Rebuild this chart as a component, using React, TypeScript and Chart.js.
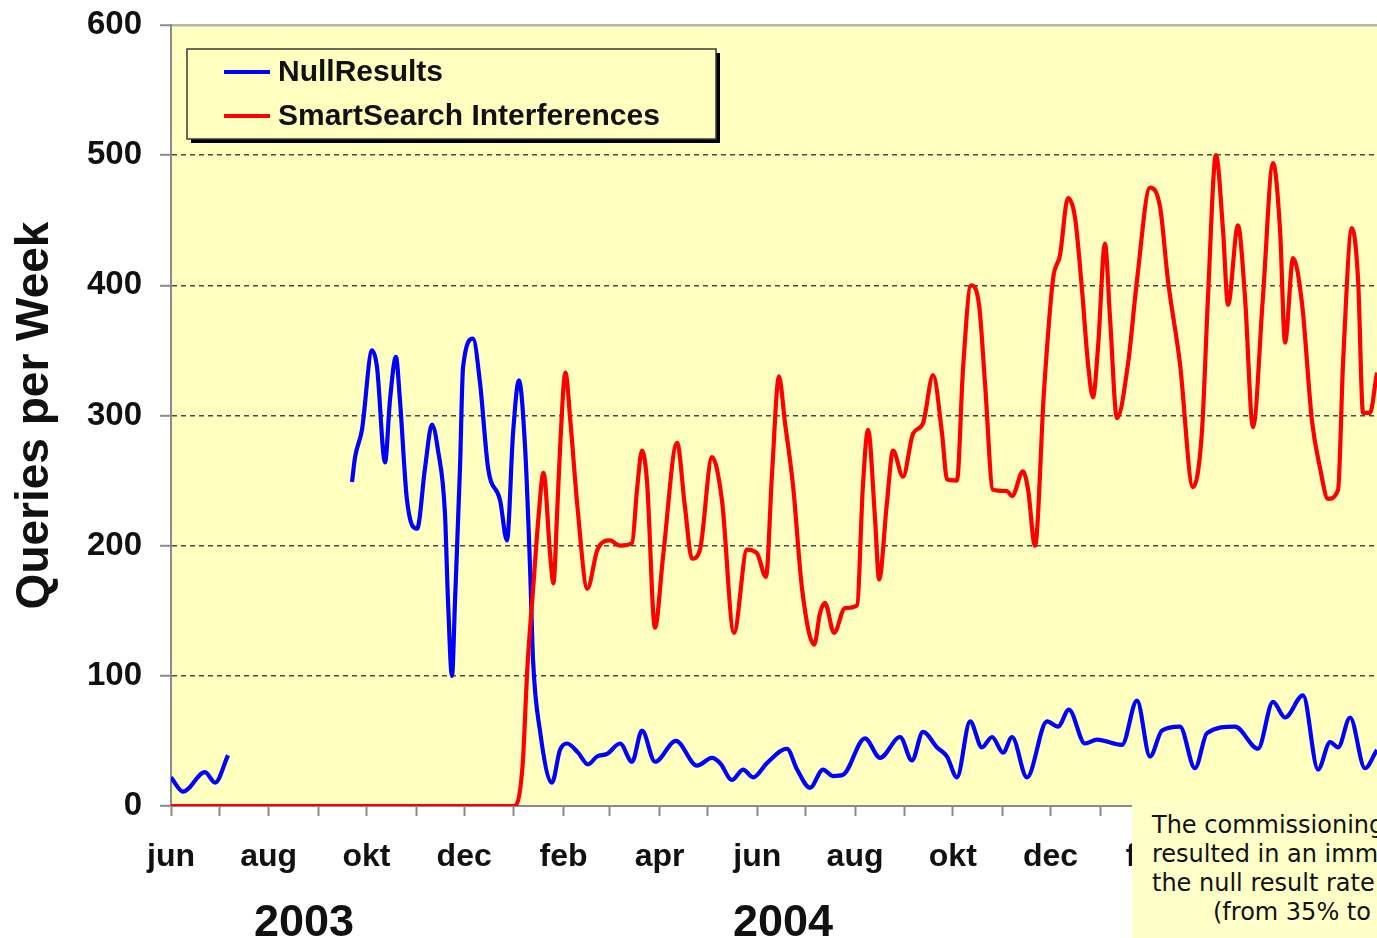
import React, { useEffect, useRef } from 'react';
import { Chart, registerables } from 'chart.js';

Chart.register(...registerables);

// ---- data (x = days since 1 June 2003) ----
const BLUE_DAYS = [
  0, 7.5, 21.2, 27.5, 35.6, 39, 43, 47.4, 50,
  113.0, 114.9, 119.2, 125.5, 128.6, 133.6, 136.7, 140.4, 142.9, 147.3, 153.6,
  158.6, 162.9, 166.7, 171.0, 172.9, 175.4, 177.3, 180.4, 182.3, 188.5, 192.9,
  197.9, 205.4, 209.7, 213.5, 217.2, 221.0, 224.1, 226.0, 230.3, 237.8, 242.8,
  247.2, 254.1, 260.3, 265.9, 272.2, 280.3, 287.8, 294.0, 302.1, 315.2, 328.3,
  337.7, 342.7, 350.2, 357.1, 363.3, 372.0, 384.5, 390.8, 398.9, 407.0, 413.2,
  419.5, 433.2, 442.6, 455.1, 462.5, 469.4, 478.2, 484.4, 490.6, 498.8, 506.2,
  512.5, 519.4, 525.0, 534.3, 546.8, 553.7, 560.5, 570.5, 578.0, 593.6, 603.0,
  611.1, 618.6, 629.8, 639.2, 646.7, 664.2, 678.5, 687.9, 695.4, 706.6, 716.0,
  723.5, 728.5, 736.0, 745.3, 752.8, 758,
];
const BLUE_VALUES = [
  22, 11, 26, 18, 39, null, -1, -1, null,
  249, 268, 289, 350, 337, 264, 312, 345, 312, 235, 213,
  260, 293, 273, 225, 158, 100, 158, 260, 337, 359, 325,
  260, 235, 204, 286, 327, 276, 184, 112, 58, 18, 43,
  48, 41, 32, 38, 40, 48, 34, 58, 34, 50, 31,
  37, 33, 20, 28, 22, 33, 44, 28, 14, 28, 23,
  24, 52, 37, 53, 35, 57, 45, 38, 22, 65, 45,
  53, 41, 53, 22, 65, 61, 74, 48, 51, 47, 81,
  38, 58, 61, 29, 56, 61, 44, 80, 68, 85, 28,
  49, 45, 68, 29, 43, 50,
];

const RED_DAYS = [
  0, 214.1, 219.4, 222.5, 226.3, 229.4, 232.5, 236.8, 238.7, 241.2, 243.1,
  246.2, 249.4, 253.7, 259.9, 266.2, 274.0, 280.3, 287.8, 290.9, 294.0, 297.1,
  302.1, 307.1, 315.9, 320.8, 325.2, 330.2, 337.7, 343.9, 351.4, 359.6, 365.8,
  371.4, 375.2, 379.5, 383.3, 388.3, 393.9, 401.5, 405.1, 408.2, 413.9, 420.7,
  428.2, 431.9, 435.1, 439.5, 442.0, 446.9, 450.7, 456.9, 463.2, 469.4, 475.7,
  481.3, 484.4, 490.6, 494.4, 499.4, 504.4, 508.1, 513.1, 521.8, 525.0, 531.8,
  535.0, 539.3, 545.0, 550.6, 554.9, 559.9, 564.3, 568.7, 572.4, 575.5, 578.7,
  583.0, 586.1, 590.5, 597.4, 603.0, 611.1, 617.4, 622.3, 629.8, 637.9, 643.6,
  647.3, 652.3, 656.7, 659.8, 666.0, 670.4, 675.4, 681.6, 687.9, 692.3, 695.4,
  700.4, 706.0, 712.2, 717.2, 722.2, 728.5, 731.6, 737.2, 741.0, 744.1, 748.4,
  752.8, 758,
];
const RED_VALUES = [
  0, 0, 30, 107, 171, 222, 256, 191, 171, 230, 281,
  333, 294, 230, 167, 197, 204, 200, 202, 243, 273, 250,
  137, 191, 279, 230, 190, 197, 268, 235, 133, 197, 194,
  176, 256, 330, 294, 246, 167, 124, 148, 156, 133, 152,
  154, 246, 289, 220, 174, 233, 273, 253, 286, 294, 331,
  286, 251, 250, 336, 400, 385, 325, 243, 242, 238, 257,
  243, 200, 320, 405, 423, 467, 452, 396, 340, 314, 353,
  432, 376, 298, 340, 404, 475, 460, 404, 340, 245, 289,
  391, 500, 442, 385, 446, 391, 291, 391, 494, 442, 356,
  421, 386, 296, 260, 236, 243, 340, 444, 404, 302, 302,
  333, 360,
];

const SERIES_LABELS = ['NullResults', 'SmartSearch Interferences'];

// month ticks (days since 1 June 2003) and their labels
const MONTH_DAYS = [0, 30, 61, 92, 122, 153, 183, 214, 245, 274, 305, 335, 366, 396, 427, 458, 488, 519, 549, 580, 611, 639, 670, 700, 731];
const MONTH_LABELS = ['jun', '', 'aug', '', 'okt', '', 'dec', '', 'feb', '', 'apr', '', 'jun', '', 'aug', '', 'okt', '', 'dec', '', 'feb', '', 'apr', '', ''];
const YEAR_DAYS = [83, 382];
const YEAR_LABELS = ['2003', '2004'];

const X_MIN = 0;
const X_MAX = 752.8;
const Y_MIN = 0;
const Y_MAX = 600;
const Y_STEP = 100;

const NOTE_LINES = ['The commissioning of SmartSearch', 'resulted in an immediate drop of', 'the null result rate', '(from 35% to'];

const FONT = '"Liberation Sans", Arial, Helvetica, sans-serif';
const PLOT_BG = '#FFFFC0';

const plotBackground = {
  id: 'plotBackground',
  beforeDraw(chart: any) {
    const { ctx, chartArea } = chart;
    ctx.save();
    ctx.fillStyle = PLOT_BG;
    ctx.fillRect(chartArea.left, chartArea.top, chartArea.right - chartArea.left, chartArea.bottom - chartArea.top);
    ctx.restore();
  },
};

const boxLegend = {
  id: 'boxLegend',
  afterDatasetsDraw(chart: any) {
    const { ctx, chartArea } = chart;
    const x = chartArea.left + 16;
    const y = chartArea.top + 24;
    const w = 529;
    const h = 90;
    ctx.save();
    ctx.fillStyle = '#000';
    ctx.fillRect(x + 4, y + 4, w, h);
    ctx.fillStyle = PLOT_BG;
    ctx.fillRect(x, y, w, h);
    ctx.strokeStyle = '#3a3a3a';
    ctx.lineWidth = 1.5;
    ctx.strokeRect(x, y, w, h);
    chart.data.datasets.forEach((ds: any, i: number) => {
      const cy = y + 23 + i * 44;
      ctx.strokeStyle = ds.borderColor;
      ctx.lineWidth = 4;
      ctx.beginPath();
      ctx.moveTo(x + 37, cy);
      ctx.lineTo(x + 83, cy);
      ctx.stroke();
      ctx.fillStyle = '#111';
      ctx.font = `bold 30px ${FONT}`;
      ctx.textBaseline = 'middle';
      ctx.textAlign = 'left';
      ctx.fillText(ds.label, x + 91, cy + 1);
    });
    ctx.restore();
  },
};

export default function App() {
  const ref = useRef<HTMLCanvasElement>(null);

  useEffect(() => {
    const chart = new Chart(ref.current as HTMLCanvasElement, {
      type: 'line',
      data: {
        datasets: [
          {
            label: SERIES_LABELS[0],
            data: BLUE_DAYS.map((d, i) => ({ x: d, y: BLUE_VALUES[i] })) as any,
            borderColor: '#0000FF',
            backgroundColor: '#0000FF',
            borderWidth: 4.2,
            pointRadius: 0,
            cubicInterpolationMode: 'monotone',
            spanGaps: false,
            fill: false,
            order: 1,
          },
          {
            label: SERIES_LABELS[1],
            data: RED_DAYS.map((d, i) => ({ x: d, y: RED_VALUES[i] })) as any,
            borderColor: '#FF0000',
            backgroundColor: '#FF0000',
            borderWidth: 4.2,
            pointRadius: 0,
            cubicInterpolationMode: 'monotone',
            fill: false,
            order: 0,
          },
        ],
      },
      options: {
        responsive: false,
        animation: false,
        devicePixelRatio: 1,
        layout: { padding: { top: 25, left: 0, right: 0, bottom: 0 } },
        plugins: {
          legend: { display: false },
          tooltip: { enabled: false },
        },
        scales: {
          x: {
            type: 'linear',
            position: 'bottom',
            min: X_MIN,
            max: X_MAX,
            weight: 0,
            afterBuildTicks: (s: any) => {
              s.ticks = MONTH_DAYS.map((v) => ({ value: v }));
            },
            afterFit: (s: any) => {
              s.height = 80;
              s.paddingLeft = 0;
              s.paddingRight = 0;
            },
            ticks: {
              autoSkip: false,
              maxRotation: 0,
              padding: 22,
              color: '#111',
              font: { family: FONT, size: 32, weight: 'bold' },
              callback: (_v: any, i: number) => MONTH_LABELS[i] ?? '',
            },
            grid: { drawOnChartArea: false, drawTicks: true, tickLength: 10, tickColor: '#8a8a8a', tickWidth: 2 },
            border: { display: true, color: '#8a8a8a', width: 2 },
          },
          years: {
            type: 'linear',
            axis: 'x',
            position: 'bottom',
            min: X_MIN,
            max: X_MAX,
            weight: 1,
            afterBuildTicks: (s: any) => {
              s.ticks = YEAR_DAYS.map((v) => ({ value: v }));
            },
            afterFit: (s: any) => {
              s.height = 52;
              s.paddingLeft = 0;
              s.paddingRight = 0;
            },
            ticks: {
              autoSkip: false,
              maxRotation: 0,
              padding: 3,
              color: '#111',
              font: { family: FONT, size: 45, weight: 'bold' },
              callback: (_v: any, i: number) => YEAR_LABELS[i] ?? '',
            },
            grid: { display: false },
            border: { display: false },
          },
          y: {
            type: 'linear',
            position: 'left',
            min: Y_MIN,
            max: Y_MAX,
            afterFit: (s: any) => {
              s.width = 171;
              s.paddingTop = 0;
              s.paddingBottom = 0;
            },
            ticks: {
              stepSize: Y_STEP,
              padding: 18,
              color: '#111',
              font: { family: FONT, size: 33, weight: 'bold' },
            },
            grid: {
              color: (c: any) => {
                const v = c.tick ? c.tick.value : null;
                if (v === Y_MIN) return 'rgba(0,0,0,0)';
                if (v === Y_MAX) return '#b4b4b4';
                return '#4a4a4a';
              },
              lineWidth: (c: any) => (c.tick && c.tick.value === Y_MAX ? 2.5 : 1.6),
              tickLength: 11,
              tickColor: '#8a8a8a',
              tickWidth: 2,
            },
            border: {
              display: true,
              color: '#8a8a8a',
              width: 2,
              dash: (c: any) => (c.tick && c.tick.value === Y_MAX ? [] : [5, 4]),
            } as any,
            title: {
              display: true,
              text: 'Queries per Week',
              color: '#111',
              font: { family: FONT, size: 46, weight: 'bold' },
              padding: { top: 8, bottom: 0 },
            },
          },
        } as any,
      },
      plugins: [plotBackground, boxLegend],
    });
    return () => chart.destroy();
  }, []);

  return (
    <div style={{ position: 'fixed', left: 0, top: 0, width: 1377, height: 938, overflow: 'hidden', background: '#fff' }}>
      <canvas ref={ref} width={1377} height={938} style={{ display: 'block', width: 1377, height: 938 }} />
      <div
        style={{
          position: 'absolute',
          left: 1132,
          top: 800,
          width: 420,
          height: 138,
          background: '#FFFFC8',
          fontFamily: '"DejaVu Sans", Verdana, sans-serif',
          fontSize: 24,
          lineHeight: '29px',
          color: '#111',
          paddingTop: 11,
          boxSizing: 'border-box',
          whiteSpace: 'nowrap',
        }}
      >
        {NOTE_LINES.map((t, i) => (
          <div key={i} style={{ paddingLeft: i === 3 ? 81 : 20 }}>
            {t}
          </div>
        ))}
      </div>
    </div>
  );
}
